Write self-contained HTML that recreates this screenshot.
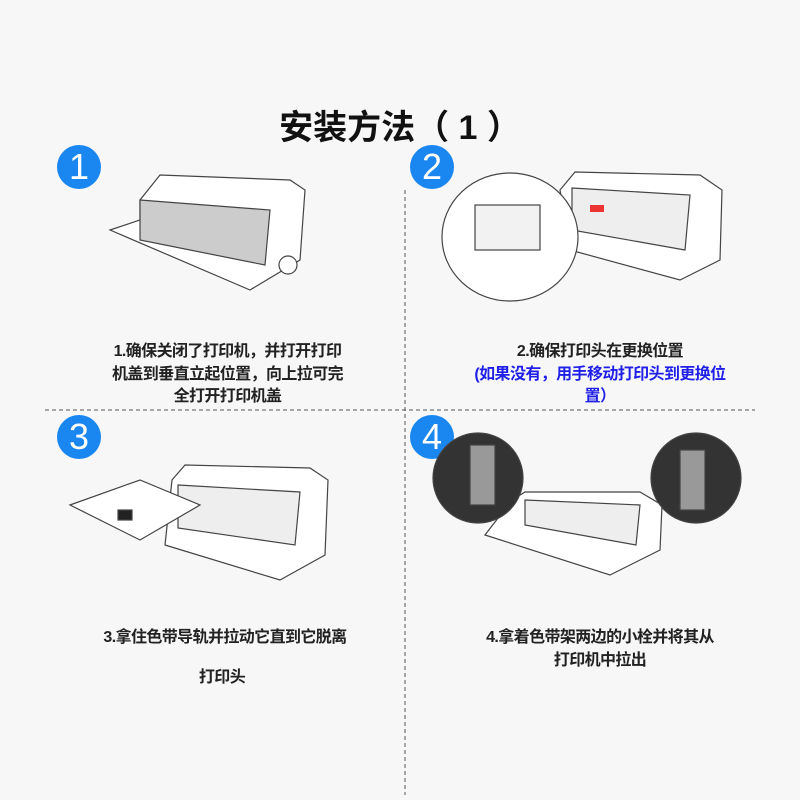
<!DOCTYPE html>
<html><head><meta charset="utf-8"><style>
body{margin:0;width:800px;height:800px;background:#f7f7f7;font-family:"Liberation Sans","Noto Sans CJK SC",sans-serif;position:relative;overflow:hidden}
.t{position:absolute;text-align:center;font-weight:bold;font-size:16px;line-height:22.5px;color:#222;white-space:nowrap;letter-spacing:-0.6px}
.num{position:absolute;width:44px;height:44px;border-radius:50%;background:#1a86f0;color:#fff;font-size:36px;line-height:44px;text-align:center;font-family:"Liberation Sans",sans-serif}
svg{position:absolute;left:0;top:0}
</style></head><body>
<div class="t" style="left:0;width:800px;top:106px;font-size:34px;line-height:44px;color:#111;letter-spacing:0">安装方法（ 1 ）</div>
<div class="num" style="left:57px;top:145px">1</div>
<div class="num" style="left:410px;top:145px">2</div>
<div class="num" style="left:57px;top:415px">3</div>
<div class="num" style="left:410px;top:415px">4</div>
<svg width="800" height="800">
<line x1="405" y1="190" x2="405" y2="795" stroke="#555" stroke-dasharray="4,3"/>
<line x1="45" y1="410" x2="755" y2="410" stroke="#555" stroke-dasharray="4,3"/>
<g fill="#fff" stroke="#444" stroke-width="1.2">
<path d="M110 230 L250 290 L300 260 L305 190 L290 180 L160 175 L140 200 L140 220 Z"/>
<path d="M140 200 L270 210 L265 265 L140 240 Z" fill="#ccc"/>
<circle cx="288" cy="265" r="9"/>
<path d="M570 250 L680 280 L720 260 L722 190 L700 175 L575 172 L560 190 Z"/>
<path d="M572 188 L690 195 L685 250 L572 230 Z" fill="#eee"/>
<rect x="590" y="205" width="14" height="7" fill="#e33" stroke="none"/>
<ellipse cx="510" cy="237" rx="68" ry="64"/>
<rect x="475" y="205" width="65" height="45" fill="#f2f2f2"/>
<path d="M165 545 L280 580 L325 555 L328 480 L310 468 L185 465 L172 480 Z"/>
<path d="M178 485 L300 492 L295 545 L178 528 Z" fill="#eee"/>
<path d="M70 505 L140 480 L200 505 L140 540 Z"/>
<rect x="118" y="510" width="14" height="10" fill="#222"/>
<path d="M485 535 L610 575 L660 550 L662 505 L640 492 L525 492 L512 500 Z"/>
<path d="M525 500 L640 505 L636 545 L525 525 Z" fill="#eee"/>
<circle cx="478" cy="478" r="45" fill="#333"/>
<circle cx="696" cy="478" r="45" fill="#333"/>
<rect x="470" y="445" width="25" height="60" fill="#999"/>
<rect x="680" y="450" width="25" height="60" fill="#999"/>
</g>
</svg>
<div class="t" style="left:75px;width:305px;top:341px">1.确保关闭了打印机，并打开打印<br>机盖到垂直立起位置，向上拉可完<br>全打开打印机盖</div>
<div class="t" style="left:445px;width:310px;top:341px">2.确保打印头在更换位置<br><span style="color:#1f1fe8">(如果没有，用手移动打印头到更换位<br>置）</span></div>
<div class="t" style="left:60px;width:330px;top:627px">3.拿住色带导轨并拉动它直到它脱离</div>
<div class="t" style="left:172px;width:100px;top:667px">打印头</div>
<div class="t" style="left:445px;width:310px;top:627px">4.拿着色带架两边的小栓并将其从<br>打印机中拉出</div>
</body></html>
